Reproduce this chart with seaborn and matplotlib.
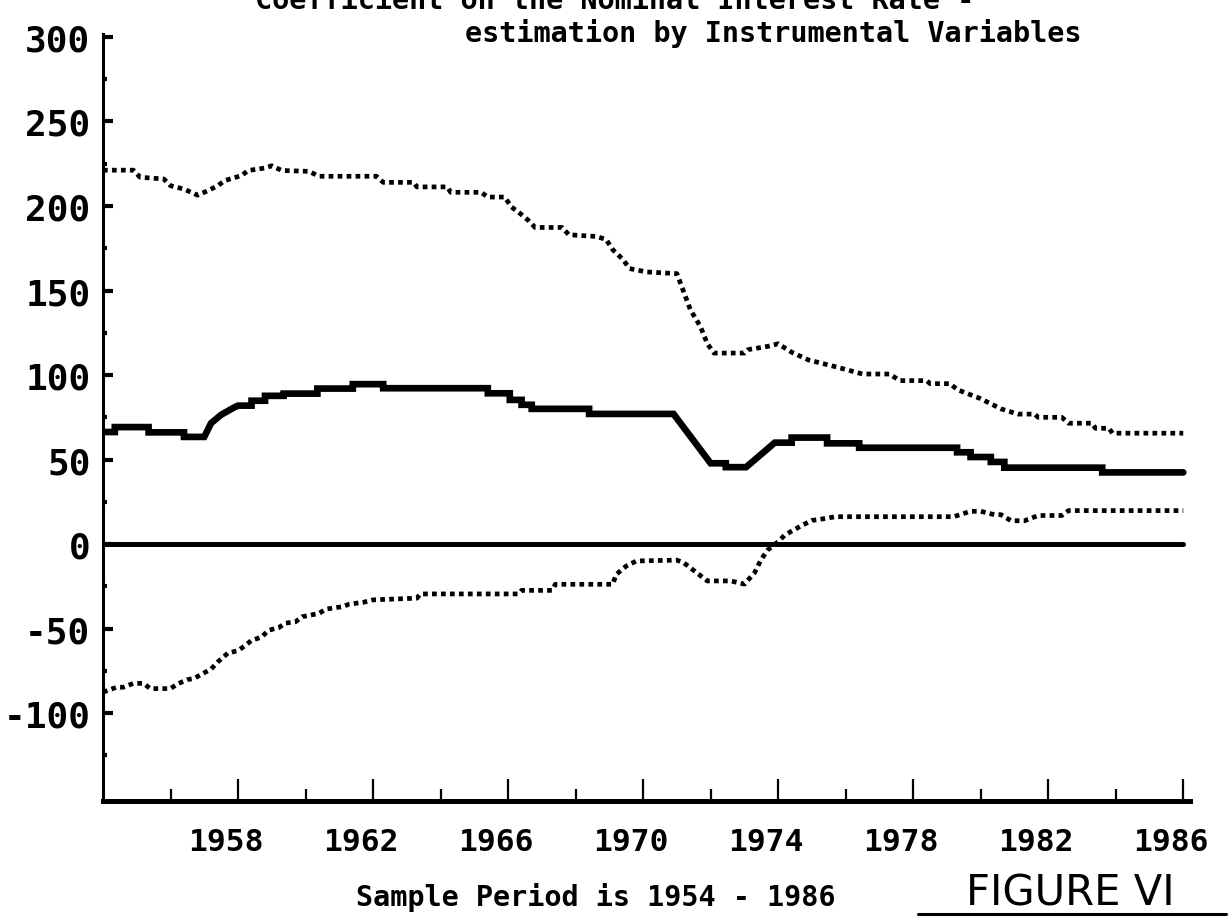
import matplotlib
matplotlib.use("Agg")
import matplotlib.pyplot as plt
import matplotlib.transforms as mtransforms
from matplotlib.lines import Line2D
import seaborn as sns
import pandas as pd

# ---------------- data ----------------
est_x = [1954.0, 1954.35, 1954.35, 1955.35, 1955.35, 1956.4, 1956.4, 1957.0,
         1957.2, 1957.5, 1957.9, 1958.0, 1958.4, 1958.4, 1958.8, 1958.8,
         1959.35, 1959.35, 1960.35, 1960.35, 1961.4, 1961.4, 1962.3, 1962.3,
         1965.4, 1965.4, 1966.05, 1966.05, 1966.4, 1966.4, 1966.7, 1966.7,
         1968.4, 1968.4, 1970.9, 1972.0, 1972.45, 1972.45, 1973.05, 1973.9,
         1974.4, 1974.4, 1975.45, 1975.45, 1976.4, 1976.4, 1979.3, 1979.3,
         1979.7, 1979.7, 1980.3, 1980.3, 1980.7, 1980.7, 1983.6, 1983.6, 1986.0]
est_y = [66.3, 66.3, 69.2, 69.2, 66.1, 66.1, 63.4, 63.4,
         71.5, 76.5, 81.0, 81.9, 81.9, 84.8, 84.8, 87.7,
         87.7, 89.0, 89.0, 92.0, 92.0, 94.6, 94.6, 92.2,
         92.2, 89.2, 89.2, 85.3, 85.3, 82.4, 82.4, 80.0,
         80.0, 77.0, 77.0, 47.8, 47.8, 45.5, 45.5, 60.0,
         60.0, 63.0, 63.0, 59.6, 59.6, 57.0, 57.0, 54.3,
         54.3, 51.5, 51.5, 48.6, 48.6, 45.2, 45.2, 42.4, 42.4]

upper_x = [1954.0, 1954.9, 1955.1, 1955.8, 1956.0, 1956.4, 1956.8, 1957.1,
           1957.4, 1957.6, 1958.1, 1958.3, 1958.8, 1959.0, 1959.3, 1960.1,
           1960.4, 1962.1, 1962.3, 1963.2, 1963.3, 1964.2, 1964.3, 1965.2,
           1965.4, 1965.9, 1966.1, 1966.3, 1966.6, 1966.8, 1967.6, 1967.8,
           1968.6, 1968.9, 1969.1, 1969.4, 1969.6, 1970.1, 1971.0, 1971.15,
           1971.4, 1971.7, 1971.9, 1972.1, 1973.0, 1973.1, 1973.7, 1974.0,
           1974.4, 1974.9, 1975.7, 1976.5, 1977.3, 1977.6, 1978.4, 1978.5,
           1979.1, 1979.3, 1980.0, 1980.6, 1981.1, 1981.6, 1981.7, 1982.4,
           1982.6, 1983.3, 1983.4, 1983.8, 1983.9, 1986.0]
upper_y = [221.2, 221.2, 217.0, 216.0, 212.0, 210.0, 206.4, 209.0,
           212.0, 215.0, 218.0, 221.0, 222.5, 223.8, 221.0, 220.5,
           217.6, 217.6, 214.0, 214.0, 211.3, 211.3, 208.1, 208.1,
           205.3, 205.3, 199.4, 196.5, 191.5, 187.3, 187.3, 183.0,
           182.0, 180.3, 174.2, 168.4, 163.0, 161.0, 160.0, 152.0,
           138.6, 128.6, 118.6, 113.0, 113.0, 115.0, 117.0, 118.5,
           113.5, 108.9, 104.9, 100.6, 100.6, 96.7, 96.7, 94.9,
           94.9, 91.4, 86.0, 80.0, 76.9, 76.9, 75.0, 75.0,
           71.5, 71.5, 68.5, 68.5, 65.6, 65.6]

lower_x = [1954.0, 1954.4, 1954.6, 1954.9, 1955.2, 1955.4, 1956.0, 1956.2,
           1956.5, 1956.7, 1956.9, 1957.2, 1957.4, 1957.7, 1958.0, 1958.2,
           1958.4, 1958.7, 1958.9, 1959.2, 1959.4, 1959.7, 1959.9, 1960.4,
           1960.6, 1961.1, 1961.3, 1961.7, 1962.0, 1963.3, 1963.4, 1966.3,
           1966.4, 1967.3, 1967.4, 1969.1, 1969.2, 1969.5, 1969.8, 1971.0,
           1971.2, 1971.5, 1971.9, 1972.6, 1973.0, 1973.3, 1973.5, 1973.7,
           1974.0, 1974.2, 1974.7, 1975.0, 1975.2, 1975.7, 1979.2, 1979.7,
           1980.0, 1980.4, 1980.6, 1980.9, 1981.3, 1981.7, 1982.4, 1982.6,
           1986.0]
lower_y = [-87.6, -84.7, -84.7, -82.4, -82.4, -85.5, -85.5, -82.8,
           -80.2, -79.5, -77.2, -74.0, -69.7, -64.5, -63.0, -60.2,
           -57.0, -55.0, -51.0, -49.5, -46.8, -46.0, -43.0, -41.0,
           -38.5, -37.0, -35.5, -34.5, -33.0, -32.0, -29.5, -29.5,
           -27.4, -27.4, -23.8, -23.8, -18.0, -13.0, -10.0, -9.5,
           -11.0, -15.6, -21.8, -21.8, -23.7, -17.0, -9.0, -3.3,
           1.4, 5.4, 11.0, 14.0, 14.5, 16.2, 16.2, 19.4,
           19.4, 17.4, 17.4, 13.8, 13.8, 16.9, 16.9, 19.8,
           19.8]

zero_x = [1954.0, 1986.0]
zero_y = [0.0, 0.0]

y_major = [-100, -50, 0, 50, 100, 150, 200, 250, 300]
y_labels = ["-100", "-50", "0", "50", "100", "150", "200", "250", "300"]
y_minor = [-125, -75, -25, 25, 75, 125, 175, 225, 275]
x_major = [1958, 1962, 1966, 1970, 1974, 1978, 1982, 1986]
x_labels = ["1958", "1962", "1966", "1970", "1974", "1978", "1982", "1986"]
x_minor = [1956, 1960, 1964, 1968, 1972, 1976, 1980, 1984]

title_top = "Coefficient on the Nominal Interest Rate -"
title_main = "estimation by Instrumental Variables"
x_title = "Sample Period is 1954 - 1986"
fig_label = "FIGURE VI"

# ---------------- style ----------------
sns.set_theme(style="white")
FONT = ["DejaVu Sans Mono", "DejaVu Sans"]
plt.rcParams["font.family"] = FONT
plt.rcParams["font.weight"] = "bold"

W, H = 1228, 920
fig = plt.figure(figsize=(W / 100, H / 100), dpi=100, facecolor="white")
ax = fig.add_axes([103 / W, 1 - 802 / H, 1087 / W, (802 - 34.6) / H])
ax.set_facecolor("white")

def frame(x, y):
    return pd.DataFrame({"x": x, "y": y})

common = dict(x="x", y="y", estimator=None, sort=False, color="black", ax=ax, legend=False)
sns.lineplot(data=frame(upper_x, upper_y), linewidth=3.4, linestyle=(0, (1, 0.9)),
             dash_capstyle="butt", **common)
sns.lineplot(data=frame(lower_x, lower_y), linewidth=3.4, linestyle=(0, (1, 0.9)),
             dash_capstyle="butt", **common)
sns.lineplot(data=frame(est_x, est_y), linewidth=4.8, solid_joinstyle="miter", **common)
sns.lineplot(data=frame(zero_x, zero_y), linewidth=3.6, **common)

ax.set_xlim(1954, 1986.2)
ax.set_ylim(-152, 302)
ax.set_xlabel("")
ax.set_ylabel("")

for s in ["top", "right"]:
    ax.spines[s].set_visible(False)
ax.spines["left"].set_linewidth(2.2)
ax.spines["bottom"].set_linewidth(3.6)
ax.spines["left"].set_color("black")
ax.spines["bottom"].set_color("black")

ax.set_yticks(y_major)
ax.set_yticklabels(y_labels)
ax.set_yticks(y_minor, minor=True)
ax.set_xticks(x_major)
ax.set_xticklabels(x_labels)
ax.set_xticks(x_minor, minor=True)

ax.tick_params(axis="y", which="major", direction="in", length=7, width=3.0,
               color="black", left=True, pad=9, labelsize=26, labelcolor="black")
ax.tick_params(axis="y", which="minor", direction="in", length=3, width=3.0,
               color="black", left=True)
ax.tick_params(axis="x", which="major", direction="in", length=16, width=1.6,
               color="black", bottom=True, pad=19, labelsize=22.5, labelcolor="black")
ax.tick_params(axis="x", which="minor", direction="in", length=9, width=1.6,
               color="black", bottom=True)
for lab in ax.get_yticklabels() + ax.get_xticklabels():
    lab.set_fontweight("bold")
    lab.set_family(FONT)
shift = mtransforms.ScaledTranslation(-12 / 100, 0, fig.dpi_scale_trans)
for lab in ax.get_xticklabels():
    lab.set_transform(lab.get_transform() + shift)

fig.text(255 / W, 1 - 9 / H, title_top, ha="left", va="baseline",
         fontsize=20.5, fontweight="bold", family=FONT, color="black")
fig.text(773 / W, 1 - 42 / H, title_main, ha="center", va="baseline",
         fontsize=20.5, fontweight="bold", family=FONT, color="black")
fig.text(596 / W, 1 - 906 / H, x_title, ha="center", va="baseline",
         fontsize=20.5, fontweight="bold", family=FONT, color="black")
fig.text(1070 / W, 1 - 906 / H, fig_label, ha="center", va="baseline",
         fontsize=30, fontweight="normal", family=["DejaVu Sans"], color="black")
fig.add_artist(Line2D([918 / W, 1226 / W], [1 - 915 / H, 1 - 915 / H],
                      transform=fig.transFigure, color="black", linewidth=2.2))

fig.savefig("out.png", dpi=100, facecolor="white")
